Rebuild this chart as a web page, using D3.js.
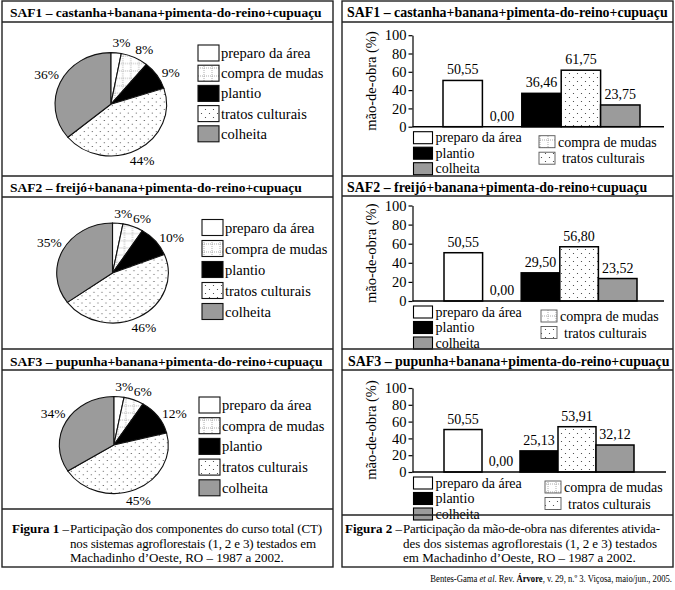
<!DOCTYPE html>
<html><head><meta charset="utf-8">
<script src="https://cdn.jsdelivr.net/npm/d3@7"></script>
<style>
html,body{margin:0;padding:0;background:#fff;}
svg{display:block;font-family:"Liberation Serif","Times New Roman",serif;}
</style></head><body>
<svg id="c" width="675" height="590"></svg>
<script>
// ---------------- data ----------------
const categories = ["preparo da área", "compra de mudas", "plantio", "tratos culturais", "colheita"];
const systemTitles = [
  "SAF1 – castanha+banana+pimenta-do-reino+cupuaçu",
  "SAF2 – freijó+banana+pimenta-do-reino+cupuaçu",
  "SAF3 – pupunha+banana+pimenta-do-reino+cupuaçu"
];
const costSaf1 = [3, 8, 9, 44, 36];
const costSaf2 = [3, 6, 10, 46, 35];
const costSaf3 = [3, 6, 12, 45, 34];
const laborSaf1 = [50.55, 0.00, 36.46, 61.75, 23.75];
const laborSaf2 = [50.55, 0.00, 29.50, 56.80, 23.52];
const laborSaf3 = [50.55, 0.00, 25.13, 53.91, 32.12];
const yTicks = [0, 20, 40, 60, 80, 100];
const yAxisLabel = "mão-de-obra (%)";
const caption1Lead = "Figura 1";
const caption1Lines = [
  "Participação dos componentes do curso total (CT)",
  "nos sistemas agroflorestais (1, 2 e 3) testados em",
  "Machadinho d’Oeste, RO – 1987 a 2002."
];
const caption2Lead = "Figura 2";
const caption2Lines = [
  "Participação da mão-de-obra nas diferentes ativida-",
  "des dos sistemas agroflorestais (1, 2 e 3) testados",
  "em Machadinho d’Oeste, RO – 1987 a 2002."
];

// ---------------- setup ----------------
const svg = d3.select("#c");
const defs = svg.append("defs");
const GRAY = "#9b9b9b";

// pattern: compra de mudas (light dashed grid)
const pg = defs.append("pattern").attr("id", "pGrid").attr("patternUnits", "userSpaceOnUse")
  .attr("width", 8).attr("height", 8);
pg.append("rect").attr("width", 8).attr("height", 8).attr("fill", "#fff");
pg.append("line").attr("x1", 4).attr("x2", 4).attr("y1", 0).attr("y2", 8)
  .attr("stroke", "#888").attr("stroke-width", 0.7).attr("stroke-dasharray", "1,1");
pg.append("line").attr("x1", 0).attr("x2", 8).attr("y1", 4).attr("y2", 4)
  .attr("stroke", "#888").attr("stroke-width", 0.7).attr("stroke-dasharray", "1,1");

// pattern: tratos culturais (sparse dots)
const pd = defs.append("pattern").attr("id", "pDots").attr("patternUnits", "userSpaceOnUse")
  .attr("width", 8).attr("height", 8);
pd.append("rect").attr("width", 8).attr("height", 8).attr("fill", "#fff");
pd.append("circle").attr("cx", 1.5).attr("cy", 1.5).attr("r", 0.6).attr("fill", "#333");
pd.append("circle").attr("cx", 5.5).attr("cy", 5.5).attr("r", 0.6).attr("fill", "#333");

const fillScale = d3.scaleOrdinal().domain(categories)
  .range(["#ffffff", "url(#pGrid)", "#000000", "url(#pDots)", GRAY]);

const locale = d3.formatLocale({decimal: ",", thousands: ".", grouping: [3], currency: ["", ""]});
const fmt = locale.format(".2f");

// ---------------- frames ----------------
function frame(x0, x1, ys) {
  const g = svg.append("g");
  g.append("rect").attr("x", x0).attr("y", ys[0]).attr("width", x1 - x0).attr("height", ys[ys.length - 1] - ys[0])
    .attr("fill", "none").attr("stroke", "#222").attr("stroke-width", 1.4);
  ys.slice(1, -1).forEach(y => {
    g.append("line").attr("x1", x0).attr("x2", x1).attr("y1", y).attr("y2", y)
      .attr("stroke", "#222").attr("stroke-width", 1.4);
  });
}

function title(x, y, txt, size) {
  svg.append("text").attr("x", x).attr("y", y).attr("font-weight", "bold")
    .attr("font-size", size).attr("fill", "#000").text(txt);
}

// ---------------- pies ----------------
const pieGen = d3.pie().sort(null).value(d => d.v);

function drawPie(values, L) {
  const data = categories.map((c, i) => ({c, v: values[i]}));
  const arcs = pieGen(data);
  const arc = d3.arc().innerRadius(0).outerRadius(L.rx);
  const g = svg.append("g").attr("transform", `translate(${L.cx},${L.cy}) scale(1,${L.ry / L.rx})`);
  g.selectAll("path").data(arcs).join("path")
    .attr("d", arc)
    .attr("fill", d => fillScale(d.data.c))
    .attr("stroke", "#111").attr("stroke-width", 1.1)
    .attr("vector-effect", "non-scaling-stroke");

  // labels placed just outside the rim
  const gl = svg.append("g").attr("font-size", 13.5);
  arcs.forEach(d => {
    const mid = (d.startAngle + d.endAngle) / 2 + L.rot;
    const s = Math.sin(mid), c = -Math.cos(mid);
    const t = gl.append("text").attr("text-anchor", "middle").text(d.data.v + "%");
    const w = t.node().getComputedTextLength();
    const px = L.cx + (L.rx + L.gap) * s, py = L.cy + (L.ry + L.gap) * c;
    const x = px + s * w / 2, yc = py + c * 5.5;
    t.attr("x", x).attr("y", yc + 4.6);
  });

  // legend
  const lg = svg.append("g").attr("font-size", 14.5);
  categories.forEach((c, i) => {
    const by = L.legY + i * L.legStep;
    lg.append("rect").attr("x", L.legX).attr("y", by - 13).attr("width", 21).attr("height", 16)
      .attr("fill", fillScale(c)).attr("stroke", "#111").attr("stroke-width", 1.1);
    lg.append("text").attr("x", L.legX + 23).attr("y", by).text(c);
  });
}

// ---------------- bars ----------------
function drawBars(values, L) {
  const x = d3.scaleBand().domain(categories).range(L.xr).padding(0);
  const y = d3.scaleLinear().domain([0, 100]).range([L.y0, L.y100]);
  const g = svg.append("g");

  g.selectAll("rect.bar").data(categories.map((c, i) => ({c, v: values[i]}))).join("rect")
    .attr("class", "bar")
    .attr("x", d => x(d.c)).attr("width", x.bandwidth())
    .attr("y", d => y(d.v)).attr("height", d => y(0) - y(d.v))
    .attr("fill", d => fillScale(d.c))
    .attr("stroke", d => d.v > 0 ? "#000" : "none").attr("stroke-width", 1.5);

  g.selectAll("text.val").data(categories.map((c, i) => ({c, v: values[i]}))).join("text")
    .attr("class", "val").attr("font-size", 14).attr("text-anchor", "middle")
    .attr("x", d => x(d.c) + x.bandwidth() / 2).attr("y", d => y(d.v) - 6)
    .text(d => fmt(d.v));

  const ax = g.append("g").attr("transform", `translate(${L.ax},0)`)
    .call(d3.axisLeft(y).tickValues(yTicks).tickSize(4).tickSizeOuter(0).tickPadding(2).tickFormat(d3.format("d")));
  ax.attr("font-family", "Liberation Serif");
  ax.selectAll("text").attr("font-size", 14.5).attr("fill", "#000");
  ax.selectAll("line,path").attr("stroke", "#000").attr("stroke-width", 1.2);

  // baseline (category axis)
  g.append("line").attr("x1", L.ax).attr("x2", L.axEnd).attr("y1", y(0)).attr("y2", y(0))
    .attr("stroke", "#000").attr("stroke-width", 1.4);

  g.append("text").attr("font-size", 14.5).attr("text-anchor", "middle")
    .attr("transform", `translate(${L.ylx},${(y(0) + y(100)) / 2}) rotate(-90)`)
    .text(yAxisLabel);

  // legend (two columns)
  const lg = svg.append("g").attr("font-size", 14);
  const left = [0, 2, 4], right = [1, 3];
  left.forEach((k, i) => {
    const top = y(0) + 5 + i * 15.5;
    lg.append("rect").attr("x", L.ax + 1).attr("y", top).attr("width", 19).attr("height", 12)
      .attr("fill", fillScale(categories[k])).attr("stroke", "#000").attr("stroke-width", 1.1);
    lg.append("text").attr("x", L.ax + 23).attr("y", top + 10.5).text(categories[k]);
  });
  right.forEach((k, i) => {
    const top = y(0) + 9 + i * 16.5;
    lg.append("rect").attr("x", L.rx0).attr("y", top).attr("width", 16).attr("height", 12)
      .attr("fill", fillScale(categories[k])).attr("stroke", "#555").attr("stroke-width", 0.9);
    lg.append("text").attr("x", L.rx0 + 19 + (k === 3 ? 4 : 0)).attr("y", top + 11).text(categories[k]);
  });
}

// ---------------- draw ----------------
// left column (Figura 1)
drawPie(costSaf1, {cx: 110.8, cy: 104.3, rx: 55.8, ry: 51.7, gap: 5, rot: 0.06, legX: 198, legY: 58, legStep: 20.2});
drawPie(costSaf2, {cx: 112.5, cy: 273, rx: 55.8, ry: 50, gap: 5, rot: 0.06, legX: 202, legY: 232.5, legStep: 21});
drawPie(costSaf3, {cx: 113.8, cy: 445, rx: 54.5, ry: 48.5, gap: 5, rot: 0.06, legX: 199, legY: 410, legStep: 20.7});

// right column (Figura 2)
drawBars(laborSaf1, {y0: 126.7, y100: 35.2, xr: [443, 640], ax: 412.5, axEnd: 664, ylx: 376, rx0: 539});
drawBars(laborSaf2, {y0: 301, y100: 205.5, xr: [444, 637], ax: 412.5, axEnd: 664, ylx: 376, rx0: 541});
drawBars(laborSaf3, {y0: 472, y100: 388, xr: [444, 634], ax: 412.5, axEnd: 666, ylx: 376, rx0: 545});

// frames drawn over content
frame(2, 333, [1, 22, 176, 197, 349, 370, 509, 567]);
frame(342, 673, [1, 22, 176, 196, 349, 370, 515, 567]);

// titles
title(10, 17, systemTitles[0], 13.5);
title(10, 192, systemTitles[1], 13.5);
title(10, 365.5, systemTitles[2], 13.5);
title(347, 17, systemTitles[0], 13.9);
title(347, 191.5, systemTitles[1], 13.9);
title(348, 365.5, systemTitles[2], 13.9);

// captions
function caption(xLead, xText, y0, lead, lines, widths) {
  const g = svg.append("g").attr("font-size", 13);
  const t0 = g.append("text").attr("x", xLead).attr("y", y0);
  t0.append("tspan").attr("font-weight", "bold").text(lead);
  t0.append("tspan").text(" –");
  lines.forEach((l, i) => {
    const t = g.append("text").attr("x", xText).attr("y", y0 + i * 14.5).text(l);
    if (widths[i]) t.attr("textLength", widths[i]).attr("lengthAdjust", "spacing");
  });
}
caption(12, 70, 533, caption1Lead, caption1Lines, [252, 246, 0]);
caption(345, 403, 533, caption2Lead, caption2Lines, [257, 254, 0]);

// footer (condensed horizontally to the reference width)
const fg = svg.append("g").attr("transform", "translate(672,582)");
const ft = fg.append("text").attr("x", 0).attr("y", 0).attr("font-size", 10).attr("text-anchor", "end");
ft.append("tspan").text("Bentes-Gama ");
ft.append("tspan").attr("font-style", "italic").text("et al");
ft.append("tspan").text(". Rev. ");
ft.append("tspan").attr("font-weight", "bold").text("Árvore");
ft.append("tspan").text(",  v. 29, n.º 3. Viçosa, maio/jun., 2005.");
const fw = ft.node().getComputedTextLength();
fg.attr("transform", `translate(672,582) scale(${Math.min(1, 242 / fw)},1)`);
</script>
</body></html>
